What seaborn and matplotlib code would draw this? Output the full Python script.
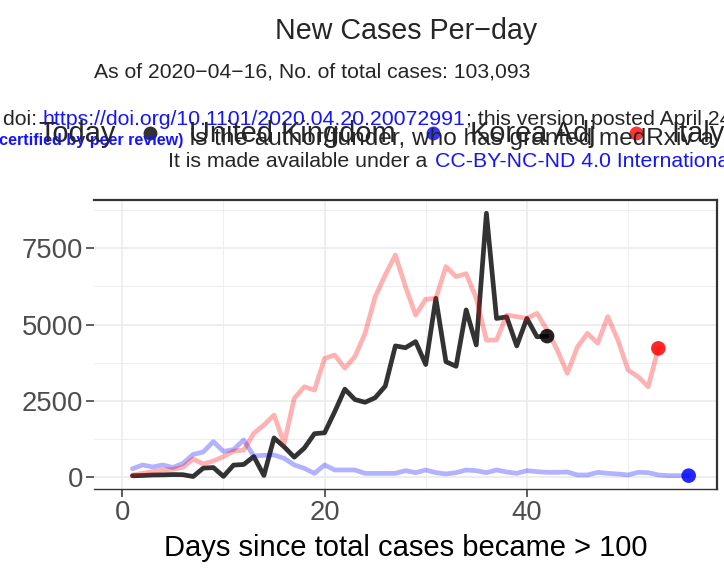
"""
New cases per day since total cases passed 100 (UK vs Korea adj vs Italy).
"""

import pandas as pd
import matplotlib
matplotlib.use("Agg")
import matplotlib.pyplot as plt
from matplotlib.lines import Line2D
from matplotlib.ticker import MultipleLocator
import seaborn as sns

# values
uk_cases = [40, 50, 65, 70, 80, 75, 15, 290, 310, 20, 390, 410, 670, 50,
            1280, 990, 650, 950, 1420, 1450, 2140, 2880, 2540, 2450, 2600,
            2980, 4300, 4240, 4440, 3690, 5860, 3780, 3630, 5480, 4330, 8650,
            5200, 5250, 4300, 5200, 4600, 4620]
korea_cases = [270, 394, 330, 394, 310, 448, 740, 820, 1159, 840, 900, 1214,
               689, 711, 722, 612, 394, 284, 120, 394, 230, 230, 230, 120, 120,
               120, 120, 208, 142, 230, 142, 100, 142, 230, 208, 142, 230, 164,
               120, 208, 175, 153, 153, 164, 66, 66, 153, 120, 98, 66, 153,
               142, 66, 44, 44, 44]
italy_cases = [66, 120, 175, 230, 252, 317, 590, 426, 525, 667, 850, 880,
               1430, 1705, 2030, 1100, 2580, 2960, 2850, 3890, 4000, 3570,
               3950, 4710, 5910, 6630, 7280, 6240, 5310, 5830, 5860, 6900,
               6570, 6670, 5860, 4490, 4490, 5310, 5260, 5200, 5370, 4820,
               4170, 3400, 4270, 4710, 4390, 5260, 4490, 3510, 3290, 2960, 4220]
countries = ["United Kingdom", "Korea Adj", "Italy"]
line_colors = ["black", "blue", "red"]
line_alpha = [0.8, 0.3, 0.3]

title = "New Cases Per\u2212day"
subtitle = "As of 2020\u221204\u221216, No. of total cases: 103,093"
xlabel = "Days since total cases became > 100"

W, H = 724, 569


def fpos(x, y):
    """pixel position -> figure fraction"""
    return x / W, 1 - y / H


frames = []
for name, vals in zip(countries, [uk_cases, korea_cases, italy_cases]):
    frames.append(pd.DataFrame({"country": name,
                                "day": range(1, len(vals) + 1),
                                "cases": vals}))
df = pd.concat(frames, ignore_index=True)
last = df.groupby("country", sort=False).tail(1)

sns.set_theme(style="white")
plt.rcParams["font.family"] = ["Liberation Sans", "DejaVu Sans"]

fig = plt.figure(figsize=(W / 100, H / 100), dpi=100)
ax = fig.add_axes([94 / W, 1 - 489 / H, (717 - 94) / W, (489 - 200) / H])

for name, col, a in zip(countries, line_colors, line_alpha):
    sns.lineplot(data=df[df["country"] == name], x="day", y="cases",
                 color=col, alpha=a, lw=3.4, ax=ax, legend=False)
sns.scatterplot(data=last, x="day", y="cases", hue="country",
                palette=dict(zip(countries, line_colors)), alpha=0.85,
                s=110, linewidth=0, ax=ax, legend=False, zorder=5)

ax.set_xlim(-2.8, 58.8)
ax.set_ylim(-394, 9085)
ax.xaxis.set_major_locator(MultipleLocator(20))
ax.xaxis.set_minor_locator(MultipleLocator(10))
ax.yaxis.set_major_locator(MultipleLocator(2500))
ax.yaxis.set_minor_locator(MultipleLocator(1250))
ax.set_axisbelow(True)
ax.grid(which="major", color="#EBEBEB", lw=1.2)
ax.grid(which="minor", color="#EBEBEB", lw=0.6)
ax.tick_params(which="major", length=5.5, width=1.1, color="#333333",
               labelsize=19.8, labelcolor="#4D4D4D", pad=2.5,
               left=True, bottom=True)
ax.tick_params(which="minor", length=0)

ax.spines["left"].set_visible(False)
for side in ["top", "right"]:
    ax.spines[side].set_color("#333333")
    ax.spines[side].set_linewidth(1.6)
ax.spines["bottom"].set_color("#333333")
ax.spines["bottom"].set_linewidth(1.0)

ax.set_xlabel(xlabel, fontsize=21, color="black", labelpad=6)
ax.set_ylabel("")

# titles
fig.text(*fpos(406, 39), title, fontsize=20.6, ha="center", va="baseline")
fig.text(*fpos(94, 77), subtitle, fontsize=15.2, ha="left", va="baseline")

# medRxiv header that sits on the page behind the chart
hdr = 15.3
fig.text(*fpos(3, 125), "doi: ", fontsize=hdr, ha="left", va="baseline")
fig.text(*fpos(42, 125), "https://doi.org/10.1101/2020.04.20.20072991",
         fontsize=hdr, color="#1414FF", ha="left", va="baseline")
fig.text(*fpos(466, 125), "; this version posted April 24, 2020.",
         fontsize=hdr, ha="left", va="baseline")
fig.text(*fpos(183, 145), "(which was not certified by peer review)",
         fontsize=11.6, color="#1414FF", fontweight="bold", ha="right", va="baseline")
fig.text(*fpos(183, 145), " is the author/funder, who has granted medRxiv a",
         fontsize=17.6, ha="left", va="baseline")
fig.text(*fpos(168, 167), "It is made available under a ", fontsize=hdr,
         ha="left", va="baseline")
fig.text(*fpos(435, 167), "CC-BY-NC-ND 4.0 International",
         fontsize=hdr, color="#1414FF", ha="left", va="baseline")

# legend row across the top
leg = 20.9
fig.text(*fpos(38, 142), "Today", fontsize=leg, ha="left", va="baseline")
for name, col, xd, xt in zip(countries, line_colors, [150, 433, 636], [189, 470, 671]):
    fig.add_artist(Line2D([xd / W], [1 - 133 / H], marker="o", markersize=10,
                          color=col, alpha=0.8, markeredgewidth=0,
                          transform=fig.transFigure))
    fig.text(*fpos(xt, 142), name, fontsize=leg, ha="left", va="baseline")

fig.savefig("out.png", dpi=100)
